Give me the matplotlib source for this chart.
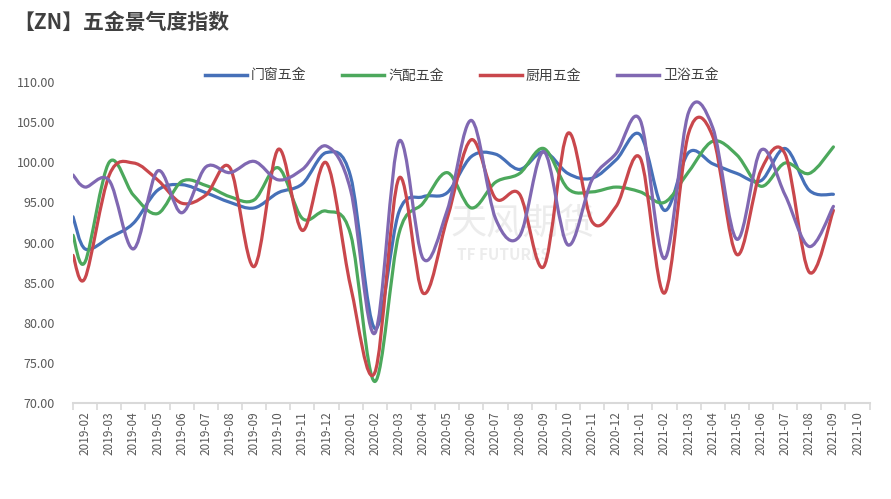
import numpy as np
import matplotlib
matplotlib.use("Agg")
import matplotlib.pyplot as plt
from matplotlib.path import Path
from matplotlib.patches import PathPatch
from matplotlib.lines import Line2D

plt.rcParams['font.family'] = ['Noto Sans CJK SC', 'DejaVu Sans']

# month index: 0 = 2019-02 ... 31 = 2021-09 (first reading at half a month before)
months = [-0.5] + list(range(32))
labels = ['2019-%02d' % m for m in range(2, 13)] + \
         ['2020-%02d' % m for m in range(1, 13)] + \
         ['2021-%02d' % m for m in range(1, 11)]

door = [93.2, 89.2, 90.6, 92.4, 96.5, 97.2, 96.2, 95.0, 94.3, 96.2, 97.3,
        101.2, 98.2, 79.3, 93.8, 95.7, 96.2, 100.7, 101.0, 99.1, 101.3, 98.6,
        98.0, 100.3, 103.4, 94.0, 101.2, 99.8, 98.6, 97.7, 101.7, 96.5, 96.0]
auto = [90.9, 87.6, 100.0, 95.9, 93.6, 97.6, 97.1, 95.7, 95.3, 99.3, 93.0,
        93.9, 91.0, 72.7, 91.1, 94.9, 98.7, 94.3, 97.5, 98.6, 101.7, 96.7,
        96.3, 96.9, 96.3, 95.0, 98.8, 102.6, 100.9, 97.0, 99.9, 98.6, 101.9]
kitchen = [88.4, 85.6, 98.4, 99.9, 97.8, 94.9, 95.9, 99.3, 87.0, 101.6, 91.5,
           99.9, 84.5, 73.8, 98.0, 83.7, 93.0, 102.8, 95.5, 96.0, 87.0, 103.6,
           92.6, 94.5, 100.5, 83.7, 103.6, 103.2, 88.5, 99.0, 101.0, 86.3, 94.0]
bath = [98.4, 96.9, 97.7, 89.2, 98.9, 93.7, 99.4, 98.7, 100.1, 97.8, 99.1,
        102.0, 96.5, 78.7, 102.6, 88.0, 94.0, 105.2, 93.0, 90.8, 101.3, 89.7,
        97.8, 101.1, 105.2, 88.0, 106.2, 104.3, 90.4, 101.5, 95.9, 89.5, 94.5]

series = [('门窗五金', door, '#4670b8'),
          ('汽配五金', auto, '#4ca85c'),
          ('厨用五金', kitchen, '#c9474c'),
          ('卫浴五金', bath, '#8068b2')]


def smooth_path(xs, ys):
    # Excel-like smoothed line: Catmull-Rom converted to cubic Bezier segments
    pts = np.column_stack([xs, ys]).astype(float)
    verts = [pts[0]]
    codes = [Path.MOVETO]
    n = len(pts)
    for i in range(n - 1):
        p0 = pts[max(i - 1, 0)]
        p1 = pts[i]
        p2 = pts[i + 1]
        p3 = pts[min(i + 2, n - 1)]
        c1 = p1 + (p2 - p0) / 6.0
        c2 = p2 - (p3 - p1) / 6.0
        verts += [c1, c2, p2]
        codes += [Path.CURVE4] * 3
    return Path(verts, codes)


fig = plt.figure(figsize=(8.91, 4.99), dpi=100)
ax = fig.add_axes([0.082, 0.192, 0.894, 0.644])

for name, vals, color in series:
    ax.add_patch(PathPatch(smooth_path(months, vals), fill=False,
                           edgecolor=color, lw=2.3, capstyle='round',
                           joinstyle='round'))

ax.set_xlim(-0.5, len(labels) - 0.5)
ax.set_ylim(70, 110)

ax.set_yticks(np.arange(70, 111, 5))
ax.set_yticklabels(['%.2f' % v for v in np.arange(70, 111, 5)])
ax.set_xticks(range(len(labels)))
ax.set_xticklabels(labels, rotation=90)
ax.set_xticks(np.arange(-0.5, len(labels), 1), minor=True)

ax.tick_params(axis='y', length=0, pad=13, labelsize=9, labelcolor='#595959')
ax.tick_params(axis='x', which='major', length=0, pad=6, labelsize=8.5,
               labelcolor='#595959')
ax.tick_params(axis='x', which='minor', length=5, width=1.2, color='#d9d9d9')

for s in ['left', 'right', 'top']:
    ax.spines[s].set_visible(False)
ax.spines['bottom'].set_color('#d9d9d9')
ax.spines['bottom'].set_linewidth(1.5)

handles = [Line2D([], [], color=c, lw=2.5) for _, _, c in series]
ax.legend(handles, [n for n, _, _ in series], loc='center',
          bbox_to_anchor=(0.488, 1.02), ncol=4, frameon=False, fontsize=10,
          handlelength=3.0, handletextpad=0.3, columnspacing=2.6,
          labelcolor='#404040')

# watermark
ax.text(0.565, 0.56, '天风期货', transform=ax.transAxes, fontsize=26,
        color='#ececec', ha='center', va='center', zorder=0)
ax.text(0.54, 0.46, 'TF FUTURES', transform=ax.transAxes, fontsize=11,
        color='#ececec', ha='center', va='center', fontweight='bold', zorder=0)

fig.text(0.015, 0.955, '【ZN】五金景气度指数', fontsize=15, fontweight='bold',
         color='#404040', ha='left', va='center')

fig.savefig('out.png', dpi=100)
